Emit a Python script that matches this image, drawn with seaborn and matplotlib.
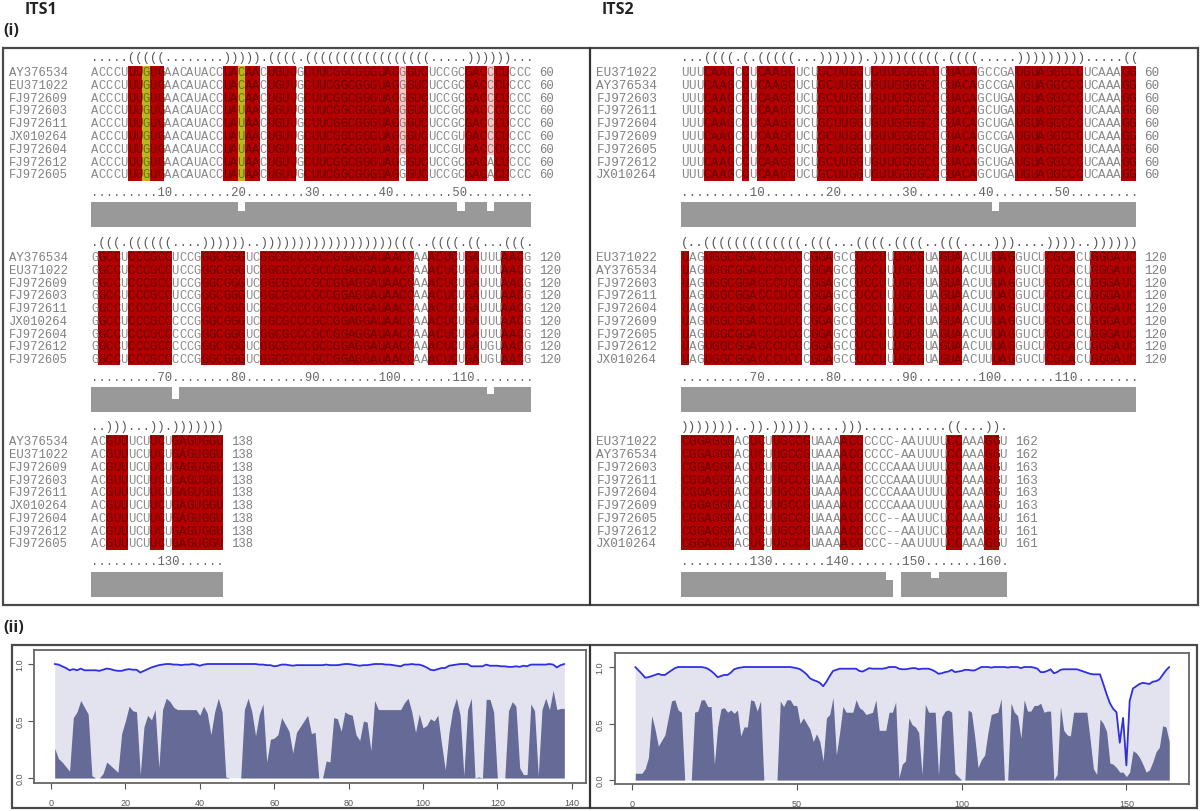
import numpy as np
import matplotlib
matplotlib.use("Agg")
import matplotlib.pyplot as plt
from matplotlib.colors import ListedColormap
from matplotlib.patches import Rectangle
from matplotlib.lines import Line2D
import seaborn as sns

sns.set_theme(style="ticks")
plt.rcParams["font.family"] = ["Liberation Mono", "DejaVu Sans"]

# ---------- alignment data ----------
ITS1_SPECIES = ["AY376534", "EU371022", "FJ972609", "FJ972603", "FJ972611",
                "JX010264", "FJ972604", "FJ972612", "FJ972605"]
ITS2_SPECIES = ["EU371022", "AY376534", "FJ972603", "FJ972611", "FJ972604",
                "FJ972609", "FJ972605", "FJ972612", "JX010264"]

ITS1_SEQ_A = "ACCCUUUGUGAACAUACCUACAACUGUUGCUUCGGCGGGUAGGGUCUCCGCGACCCUCCC"
ITS1_STR_A = ".....(((((........))))).((((.(((((((((((((((((.....))))))..."
ITS1_RUL_A = ".........10........20........30........40........50........."
ITS1_SEQ_B = "GGCCUCCCGCCUCCGGGCGGGUCGGCGCCCGCCGGAGGAUAACCAAACUCUGAUUUAACG"
ITS1_STR_B = ".(((.((((((....))))))..))))))))))))))))))(((..((((.((...(((."
ITS1_RUL_B = ".........70........80........90........100.......110........"
ITS1_SEQ_C = "ACGUUUCUUCUGAGUGGU"
ITS1_STR_C = "..)))...)).)))))))"
ITS1_RUL_C = ".........130......"

ITS2_SEQ_A = "UUUCAAGCCUCAAGCUCUGCUUGGUGUUGGGGCCCUACAGCCGAUGUAGGCCCUCAAAGG"
ITS2_STR_A = "...((((.(.(((((...)))))).))))(((((.((((.....))))))))).....(("
ITS2_RUL_A = ".........10........20........30........40........50........."
ITS2_SEQ_B = "UAGUGGCGGACCCUCCCGGAGCCUCCUUUGCGUAGUAACUUUAGGUCUCGCACUGGGAUC"
ITS2_STR_B = "(..(((((((((((((.(((...((((.((((..(((....)))....))))..))))))"
ITS2_RUL_B = ".........70........80........90........100.......110........"
ITS2_SEQ_C = "CGGAGGGACUCUUGCCGUAAAACCCCCC-AAUUUUCCAAAGGU"
ITS2_STR_C = ")))))))..)).)))))....)))...........((...))."
ITS2_RUL_C = ".........130.......140.......150.......160."

# (rows, 1-based column, letter)
ITS1_EDIT_A = [((3, 4, 5, 6, 7, 8), 21, "U"), ((5, 6), 51, "U"), ((7, 8), 55, "A")]
ITS1_EDIT_B = [((5, 6, 7, 8), 12, "C"), ((7, 8), 55, "G")]
ITS2_EDIT_A = [((2, 3, 4, 6, 7, 8), 42, "U")]
ITS2_EDIT_C = [((2, 3, 4, 5), 29, "A"), ((6, 7, 8), 28, "-"), ((6, 7), 34, "C")]

# (rows, 1-based column, cell class) 2 yellow, 3 pink, 0 white
ITS1_SHADE_A = [(range(9), 8, 2), (range(9), 21, 2),
                (range(7), 43, 3), ((7, 8), 43, 0),
                (range(7), 55, 3), ((7, 8), 55, 0)]

ITS1_GRAY_A = {21: 0.65, 51: 0.65, 55: 0.65}
ITS1_GRAY_B = {12: 0.5, 55: 0.72}
ITS1_GRAY_C = {}
ITS2_GRAY_A = {42: 0.65}
ITS2_GRAY_B = {}
ITS2_GRAY_C = {28: 0.66, 29: 0.0, 34: 0.75}

ITS1_COUNT = [[60] * 9, [120] * 9, [138] * 9]
ITS2_COUNT = [[60] * 9, [120] * 9, [162, 162, 163, 163, 163, 163, 161, 161, 161]]

# ---------- conservation tracks ----------
ITS1_TOP = [1.0, .995, .98, .965, .945, .955, .945, .96, .945, .945,
            .945, .945, .94, .95, .96, .955, .945, .94, .94, .95,
            .955, .95, .95, .925, .94, .955, .97, .98, .99, .995,
            1.0, 1.0, .995, .995, .99, .995, .995, 1.0, .995, .985,
            .995, 1.0, 1.0, 1.0, 1.0, 1.0, 1.0, 1.0, 1.0, 1.0,
            1.0, 1.0, 1.0, 1.0, 1.0, .995, .995, .99, .99, .98,
            .985, .995, .995, .99, .985, .99, .99, .99, .99, .99,
            .99, .99, .99, .995, .99, .99, .99, .995, 1.0, 1.0,
            .995, .99, .985, .99, .99, .995, 1.0, 1.0, 1.0, .995,
            .995, .99, .985, .98, .995, .995, 1.0, .995, .995, .985,
            .97, .95, .945, .955, .965, .965, .985, .99, .995, 1.0,
            1.0, 1.0, .98, .98, .98, .98, .995, .985, .985, .985,
            .98, .98, .975, .975, .98, .975, .985, .98, .995, .995,
            .995, .995, .995, 1.0, .995, .97, .99, 1.0]
ITS1_LOW = [.26, .17, .14, .10, .06, .53, .58, .68, .62, .56,
            .02, 0, 0, .04, .14, .11, .08, .05, .39, .50,
            .63, .59, .58, .03, .45, .55, .51, .60, .09, .60,
            .70, .67, .62, .60, .60, .60, .60, .60, .60, .55,
            .63, .57, .38, .58, .70, .58, .01, 0, 0, 0,
            0, .60, .70, .58, .37, .56, .65, .14, .34, .35,
            .38, .53, .47, .41, .22, .40, .45, .50, .55, .39,
            .40, 0, 0, .15, .14, .53, .52, .41, .58, .56,
            .55, .38, .33, .50, .49, .24, .68, .60, .60, .60,
            .60, .60, .60, .60, .66, .70, .58, .40, .56, .44,
            .46, .52, .50, .55, .30, .07, .40, .60, .70, .55,
            .02, .60, .70, 0, .01, 0, .69, .69, .58, 0,
            0, 0, .59, .67, .63, .09, .03, .03, .65, .59,
            .02, .60, .70, .60, .77, .60, .61, .61]

ITS2_TOP = [1.0, .97, .94, .905, .91, .92, .93, .94, .93, .93,
            .95, .97, .99, 1.0, 1.0, 1.0, 1.0, 1.0, 1.0, 1.0,
            1.0, .995, .985, .965, .94, .91, .92, .93, .93, .95,
            .98, .99, .995, 1.0, 1.0, 1.0, 1.0, 1.0, 1.0, 1.0,
            1.0, 1.0, 1.0, 1.0, 1.0, 1.0, 1.0, 1.0, .995, .99,
            .98, .96, .935, .90, .885, .875, .86, .83, .87, .92,
            .965, .975, .985, .985, .985, .985, .985, .985, .965, .96,
            .975, .99, .985, .985, .985, .985, .99, 1.0, 1.0, 1.0,
            .985, .98, .98, .985, .99, .99, .98, .985, .985, .985,
            .975, .96, .94, .945, .955, .96, .975, .955, .96, .965,
            .975, .975, .97, .97, .985, 1.0, 1.0, 1.0, .995, 1.0,
            1.0, 1.0, 1.0, .995, 1.0, 1.0, 1.0, .99, 1.0, 1.0,
            1.0, .995, .985, .955, .955, .965, .98, .945, .955, .975,
            .98, .98, .98, .98, .98, .97, .96, .95, .94, .935,
            .935, .935, .85, .76, .68, .63, .60, .33, .55, .13,
            .70, .81, .83, .85, .86, .855, .85, .87, .875, .89,
            .93, .97, 1.0]
ITS2_LOW = [.06, .06, .06, .10, .20, .57, .45, .30, .35, .40,
            .55, .70, .71, .62, .60, 0, 0, 0, .60, .61,
            .71, .71, .65, .65, .14, .47, .63, .64, .60, .62,
            .59, .62, .39, .47, .47, .71, .70, .61, .70, 0,
            0, 0, 0, 0, .70, .65, .71, .71, .66, .66,
            .50, .55, .50, .45, .34, .41, .34, .17, .55, .58,
            .73, .22, .42, .65, .60, .60, .60, .71, .64, .62,
            .58, .59, .60, .71, .44, .44, .44, .60, .60, .69,
            .02, .14, .17, .55, .49, .47, .42, .05, .67, .60,
            .60, .60, .04, .56, .61, .62, .60, .06, .03, 0,
            0, .62, .60, .38, .11, .18, .22, .42, .58, .59,
            .60, .72, 0, 0, .68, .60, .57, .37, .71, .61,
            .61, .66, .66, .68, .60, .61, .61, 0, .05, .65,
            .44, .40, .39, .60, .60, .60, .60, .60, .36, .10,
            .05, .54, .50, .43, .15, .14, .11, .07, .07, .03,
            .07, .26, .24, .20, .14, .07, .09, .16, .25, .29,
            .48, .47, .34]

# ---------- layout helpers ----------
W, H = 1200, 812
fig = plt.figure(figsize=(W / 100, H / 100), dpi=100, facecolor="white")


def px_axes(x0, y0, x1, y1):
    return fig.add_axes([x0 / W, 1 - y1 / H, (x1 - x0) / W, (y1 - y0) / H])


def frame(x0, y0, x1, y1, lw=1.6, color="#4a4a4a"):
    fig.add_artist(Rectangle((x0 / W, 1 - y1 / H), (x1 - x0) / W, (y1 - y0) / H,
                             transform=fig.transFigure, fill=False,
                             edgecolor=color, linewidth=lw))


RED, YEL, PINK = "#b30000", "#b8b81e", "#f7c9c9"
CMAP = ListedColormap(["#ffffff", RED, YEL, PINK])
TXT_ON = {0: "#8a8a8a", 1: "#6a0000", 2: "#6e6e14", 3: "#8a7a7a"}
MONO = "Liberation Mono"


def alignment(x0, x1, y0, y1, bar_y, seq, struct, ruler, species, counts,
              edits=(), shades=(), gray=None, pad=16.5):
    n = len(seq)
    letters = np.array([list(seq) for _ in species])
    for rows, col, ch in edits:
        for r in rows:
            letters[r, col - 1] = ch
    codes = np.tile(np.array([0 if c == "." else 1 for c in struct]), (len(species), 1))
    for rows, col, code in shades:
        for r in rows:
            codes[r, col - 1] = code
    cw = (x1 - x0) / n
    fs = cw / 0.6 / (100 / 72)

    ax = px_axes(x0, y0, x1, y1)
    sns.heatmap(codes, ax=ax, cmap=CMAP, vmin=-0.5, vmax=3.5, cbar=False,
                annot=letters, fmt="", xticklabels=False, yticklabels=species,
                annot_kws={"family": MONO, "fontsize": fs})
    for t, code in zip(ax.texts, codes.ravel()):
        t.set_color(TXT_ON[int(code)])
    ax.tick_params(axis="y", left=False, length=0, pad=pad, labelsize=fs,
                   labelcolor="#808080", rotation=0)
    for lab in ax.get_yticklabels():
        lab.set_family(MONO)
    ax.text(0, -0.68, struct, family=MONO, fontsize=fs, color="#555555", ha="left", va="center")
    ax.text(0, 9.88, ruler, family=MONO, fontsize=fs, color="#666666", ha="left", va="center")
    for r, c in enumerate(counts):
        ax.text(n + 1.1, r + 0.5, str(c), family=MONO, fontsize=fs, color="#808080",
                ha="left", va="center")

    bar = px_axes(x0, bar_y, x1, bar_y + 24.5)
    vals = [(gray or {}).get(i + 1, 1.0) for i in range(n)]
    sns.barplot(x=list(range(n)), y=vals, ax=bar, color="#999999", saturation=1,
                width=1.0, linewidth=0)
    bar.set_xlim(-0.5, n - 0.5)
    bar.set_ylim(0, 1)
    bar.axis("off")


def track(box, xlim, ylim, top, low, xticks):
    ax = px_axes(*box)
    x = np.arange(1, len(top) + 1)
    ax.fill_between(x, 0, top, color="#e3e3ef", linewidth=0)
    ax.fill_between(x, 0, low, color="#666a96", linewidth=0)
    sns.lineplot(x=x, y=top, ax=ax, color="#2f2fe0", linewidth=1.3, errorbar=None, estimator=None)
    ax.set_xlim(*xlim)
    ax.set_ylim(*ylim)
    ax.set_xticks(xticks)
    ax.set_yticks([0, 0.5, 1])
    ax.set_yticklabels(["0.0", "0.5", "1.0"], rotation=90, va="center")
    ax.tick_params(axis="both", labelsize=6.5, length=4, width=0.8, color="#555555",
                   labelcolor="#555555")
    ax.tick_params(axis="x", pad=6.5)
    ax.tick_params(axis="y", pad=3)
    for lab in ax.get_xticklabels() + ax.get_yticklabels():
        lab.set_family("Liberation Sans")
    for s in ax.spines.values():
        s.set_color("#666666")
        s.set_linewidth(1.3)
    return ax


# ---------- panel (i) ----------
ROWS = [(66.7, 181.7, 203), (251.7, 366.4, 388), (436, 550.7, 573)]
ITS1_BLOCKS = [(ITS1_SEQ_A, ITS1_STR_A, ITS1_RUL_A, ITS1_EDIT_A, ITS1_SHADE_A, ITS1_GRAY_A),
               (ITS1_SEQ_B, ITS1_STR_B, ITS1_RUL_B, ITS1_EDIT_B, (), ITS1_GRAY_B),
               (ITS1_SEQ_C, ITS1_STR_C, ITS1_RUL_C, (), (), ITS1_GRAY_C)]
ITS2_BLOCKS = [(ITS2_SEQ_A, ITS2_STR_A, ITS2_RUL_A, ITS2_EDIT_A, (), ITS2_GRAY_A),
               (ITS2_SEQ_B, ITS2_STR_B, ITS2_RUL_B, (), (), ITS2_GRAY_B),
               (ITS2_SEQ_C, ITS2_STR_C, ITS2_RUL_C, ITS2_EDIT_C, (), ITS2_GRAY_C)]

for (y0, y1, by), blk, cnt in zip(ROWS, ITS1_BLOCKS, ITS1_COUNT):
    seq, st, ru, ed, sh, gr = blk
    alignment(91, 91 + 7.33 * len(seq), y0, y1, by, seq, st, ru, ITS1_SPECIES, cnt,
              edits=ed, shades=sh, gray=gr, pad=16.5)
for (y0, y1, by), blk, cnt in zip(ROWS, ITS2_BLOCKS, ITS2_COUNT):
    seq, st, ru, ed, sh, gr = blk
    alignment(681, 681 + 7.583 * len(seq), y0, y1, by, seq, st, ru, ITS2_SPECIES, cnt,
              edits=ed, shades=sh, gray=gr, pad=17)

frame(3, 48.5, 1198, 606)
fig.add_artist(Line2D([590 / W] * 2, [1 - 48.5 / H, 1 - 606 / H], color="#333333", linewidth=1.6))

# ---------- panel (ii) ----------
track((34.4, 651, 585.5, 784), (-4.46, 143.7), (-0.044, 1.123), ITS1_TOP, ITS1_LOW,
      [0, 20, 40, 60, 80, 100, 120, 140])
track((614.5, 654, 1189, 785), (-5.3, 169), (-0.035, 1.124), ITS2_TOP, ITS2_LOW,
      [0, 50, 100, 150])
frame(12, 645.5, 1197, 809)
fig.add_artist(Line2D([590 / W] * 2, [1 - 645.5 / H, 1 - 809 / H], color="#333333", linewidth=1.6))

# ---------- headings ----------
for s, x, y in [("ITS1", 25, 10), ("ITS2", 602, 10), ("(i)", 3, 31), ("(ii)", 3, 628)]:
    fig.text(x / W, 1 - y / H, s, family="Open Sans", fontweight="bold", fontsize=11.5,
             color="#222222", ha="left", va="center")

fig.savefig("out.png", dpi=100, facecolor="white")
